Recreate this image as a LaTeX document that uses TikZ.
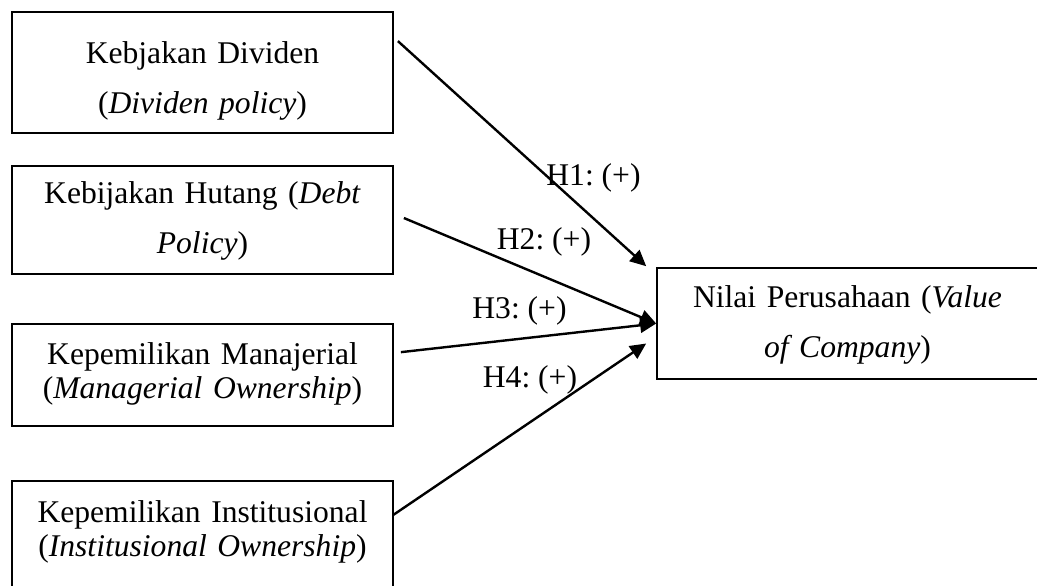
\documentclass[tikz,border=0pt]{standalone}
\usepackage{fontspec}
\setmainfont{Liberation Serif}
\frenchspacing
\usetikzlibrary{arrows.meta,calc}
\newcommand{\Wide}{\fontsize{11.85}{18.75}\selectfont}
\newcommand{\Tight}{\fontsize{11.85}{13.1}\selectfont}

\begin{document}
\begin{tikzpicture}[x=0.375pt, y=-0.375pt,
    varbox/.style={draw, line width=0.65pt, inner sep=0pt, minimum width=142.9pt},
    vartext/.style={anchor=base, align=center, text width=150pt, inner sep=0pt},
    hyp/.style={anchor=base, inner sep=0pt, font=\Wide},
    arr/.style={-{Triangle[length=6pt, width=5.6pt]}, line width=0.9pt}]

    \useasboundingbox (0,0) rectangle (1037,585);
    \clip (0,0) rectangle (1037,585);

    % variable boxes
    \draw(202.5,72.5) node[varbox, minimum height=45.4pt] (b1) {};
    \draw(202.5,220) node[varbox, minimum height=40.5pt] (b2) {};
    \draw(202.5,375) node[varbox, minimum height=38.25pt] (b3) {};
    \draw(202.5,550.5) node[varbox, minimum height=52.1pt] (b4) {};
    \draw(858.5,323.5) node[varbox, minimum width=151.1pt, minimum height=41.6pt] (bv) {};

    \draw(202.5,63) node[vartext, font=\Wide] (t1) {Kebjakan Dividen\\(\textit{Dividen policy})};
    \draw(202.5,203) node[vartext, font=\Wide] (t2) {Kebijakan Hutang (\textit{Debt}\\\textit{Policy})};
    \draw(202.5,364) node[vartext, font=\Tight] (t3) {Kepemilikan Manajerial\\(\textit{Managerial Ownership})};
    \draw(202.5,522) node[vartext, font=\Tight] (t4) {Kepemilikan Institusional\\(\textit{Institusional Ownership})};
    \draw(847.5,307) node[vartext, font=\Wide] (tv) {Nilai Perusahaan (\textit{Value}\\\textit{of Company})};

    % hypotheses
    \draw[arr] ($(b1.north east)+(4,30)$) -- ($(bv.north west)+(-10,-1)$);
    \draw[arr] ($(b2.east)+(10,-2)$) -- (bv.west);
    \draw[arr] ($(b3.north east)+(7,29)$) -- (bv.west);
    \draw[arr] ($(b4.north east)+(-1,35)$) -- ($(bv.west)+(-10,20)$);

    \draw(593.5,185) node[hyp] (h1) {H1: (+)};
    \draw(544,249) node[hyp] (h2) {H2: (+)};
    \draw(519.5,318) node[hyp] (h3) {H3: (+)};
    \draw(530,387) node[hyp] (h4) {H4: (+)};

\end{tikzpicture}
\end{document}
